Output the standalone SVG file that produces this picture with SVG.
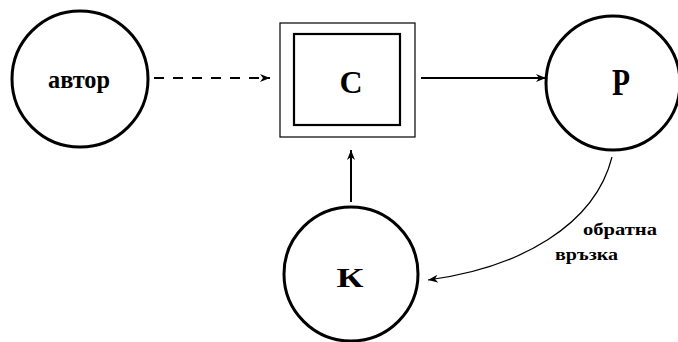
<svg xmlns="http://www.w3.org/2000/svg" width="678" height="342" viewBox="0 0 678 342">
<style>
.node{fill:none;stroke:#000;stroke-width:3}
.lbl{font-family:"Liberation Serif","DejaVu Serif",serif;font-weight:bold;fill:#000;text-anchor:middle}
.side{font-family:"Liberation Serif","DejaVu Serif",serif;font-weight:bold;fill:#000}
.edge{fill:none;stroke:#000;stroke-width:2}
</style>
<defs>
<marker id="ah" viewBox="0 0 10 8" refX="10" refY="4" markerWidth="10" markerHeight="8" markerUnits="userSpaceOnUse" orient="auto">
<path d="M0,0 L10,4 L0,8 L3,4 Z" fill="#000"/>
</marker>
</defs>
<rect width="678" height="342" fill="#fff"/>
<g id="connectors">
<line class="edge" x1="154" y1="78" x2="270" y2="78" stroke-dasharray="10,9" marker-end="url(#ah)"/>
<line class="edge" x1="421" y1="78" x2="546" y2="78" marker-end="url(#ah)"/>
<line class="edge" x1="351" y1="202" x2="351" y2="150" marker-end="url(#ah)"/>
<path d="M612,157 C595,225 520,268 428,280" fill="none" stroke="#000" stroke-width="1.2" marker-end="url(#ah)"/>
</g>
<g id="avtor">
<circle class="node" cx="80" cy="79" r="68"/>
<text class="lbl" x="79" y="88" font-size="25" textLength="62" lengthAdjust="spacingAndGlyphs">автор</text>
</g>
<g id="S">
<rect x="280" y="23" width="135" height="114" fill="none" stroke="#000" stroke-width="1.2"/>
<rect x="294" y="34" width="106" height="91" fill="none" stroke="#000" stroke-width="2.2"/>
<text class="lbl" x="351" y="93" font-size="32">С</text>
</g>
<g id="R">
<circle class="node" cx="613" cy="83" r="67"/>
<text class="lbl" x="621" y="95" font-size="38" textLength="18" lengthAdjust="spacingAndGlyphs">Р</text>
</g>
<g id="K">
<circle class="node" cx="351" cy="274" r="67"/>
<text class="lbl" x="350" y="287" font-size="27" textLength="27" lengthAdjust="spacingAndGlyphs">К</text>
</g>
<g id="feedback-label">
<text class="side" x="583" y="235" font-size="16" textLength="74" lengthAdjust="spacingAndGlyphs">обратна</text>
<text class="side" x="555" y="260" font-size="16" textLength="63" lengthAdjust="spacingAndGlyphs">връзка</text>
</g>
</svg>
